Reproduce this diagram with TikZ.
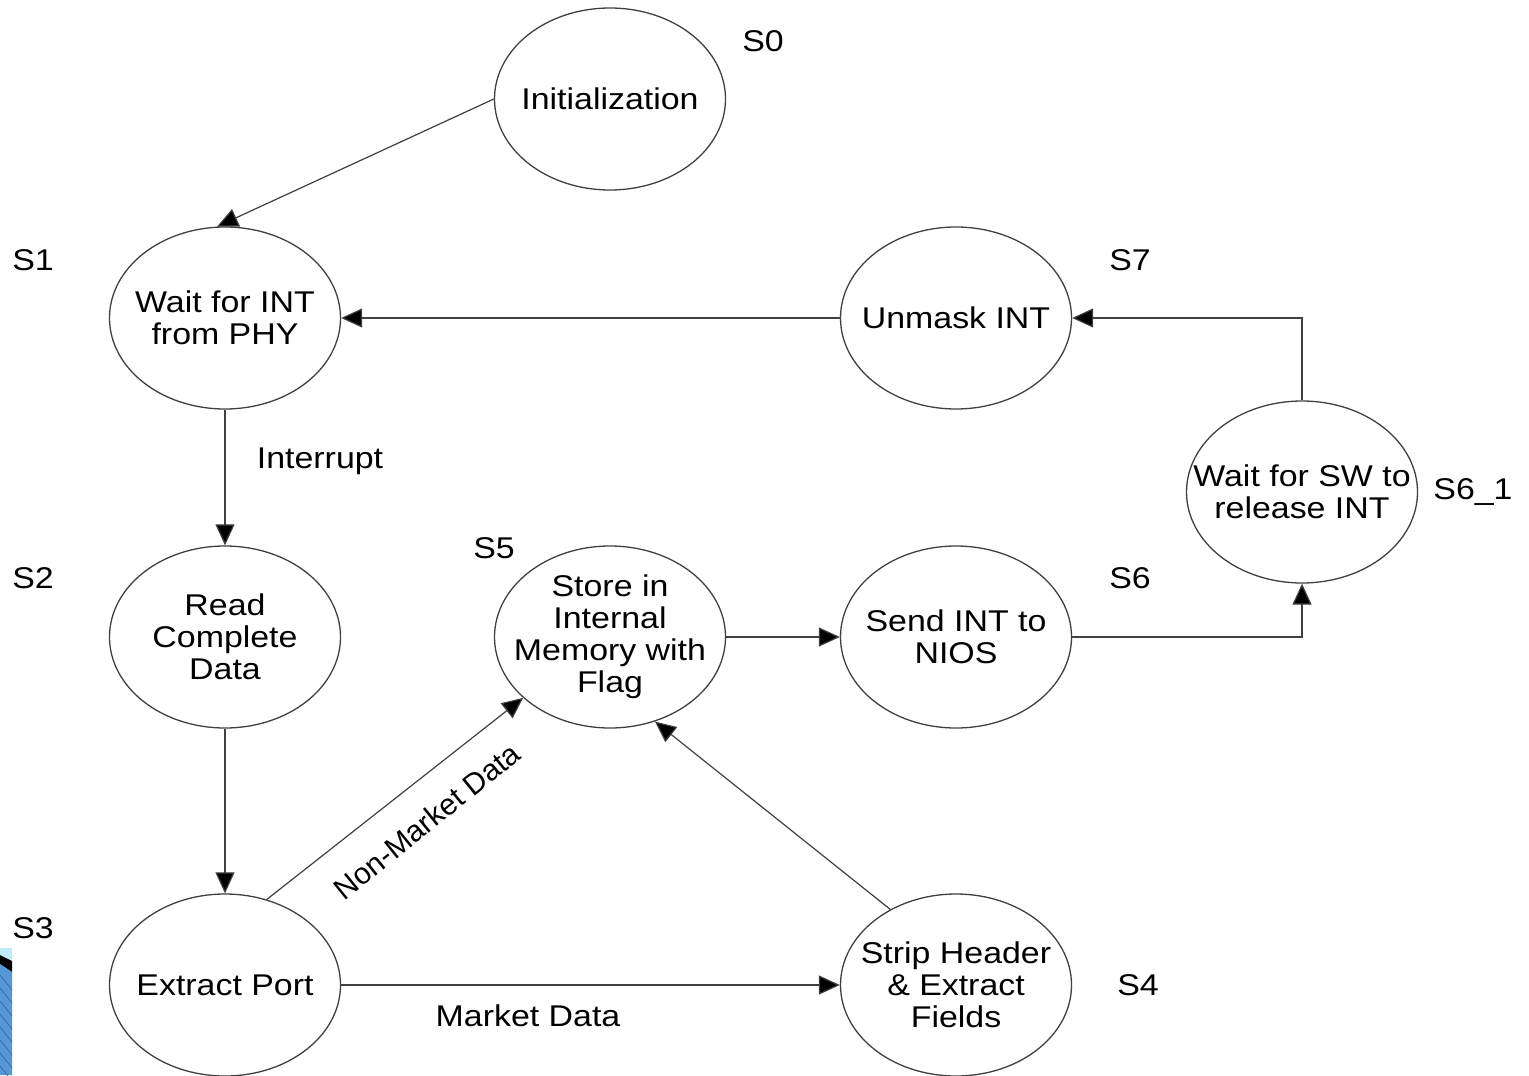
\documentclass[tikz,border=0pt]{standalone}
\usepackage{fontspec}
\setmainfont[FakeStretch=1.13]{Liberation Sans}
\newfontfamily\plainsans{Liberation Sans}
\usetikzlibrary{shapes.geometric,arrows.meta}

\tikzset{
  state/.style={ellipse, draw=black!75, line width=0.65pt,
    minimum width=115.5pt, minimum height=91pt, inner sep=0pt},
  stxt/.style={align=center, inner sep=0pt,
    font=\fontsize{15}{16}\selectfont},
  tag/.style={inner sep=0pt, font=\fontsize{15}{16}\selectfont},
  flow/.style={draw=black!75, line width=0.6pt,
    -{Triangle[length=10.5pt,width=9.5pt,fill=black]}},
}

\begin{document}
\begin{tikzpicture}[x=0.5pt, y=-0.5pt]
  \useasboundingbox (0,0) rectangle (1529,1075);
  \fill[white] (0,0) rectangle (1529,1075);

  % corner ribbon
  \fill[cyan!25!white] (0,948) rectangle (12,1075);
  \fill[black] (0,955) -- (12,961) -- (12,972) -- (0,964) -- cycle;
  \fill[cyan!60!blue!70!white] (0,964) -- (12,972) -- (12,1075) -- (0,1075) -- cycle;
  \foreach \k in {0,1,...,8}
    \draw[cyan!40!blue!80!black, line width=0.3pt]
      (0,975+\k*13) -- (12,990+\k*13);

  % states
  \node[state] (s0)  at (610,99)    {};
  \node[state] (s1)  at (225,318)   {};
  \node[state] (s7)  at (956,318)   {};
  \node[state] (s61) at (1302,492)  {};
  \node[state] (s2)  at (225,637)   {};
  \node[state] (s5)  at (610,637)   {};
  \node[state] (s6)  at (956,637)   {};
  \node[state] (s3)  at (225,985)   {};
  \node[state] (s4)  at (956,985)   {};

  \node[stxt] (t0)  at (s0)  {Initialization};
  \node[stxt] (t1)  at (s1)  {Wait for INT\\from PHY};
  \node[stxt] (t7)  at (s7)  {Unmask INT};
  \node[stxt] (t61) at (s61) {Wait for SW to\\release INT};
  \node[stxt] (t2)  at (s2)  {Read\\Complete\\Data};
  \node[stxt] (t5)  at (s5)  {Store in\\Internal\\Memory with\\Flag};
  \node[stxt] (t6)  at (s6)  {Send INT to\\NIOS};
  \node[stxt] (t3)  at (s3)  {Extract Port};
  \node[stxt] (t4)  at (s4)  {Strip Header\\\& Extract\\Fields};

  % state labels
  \node[tag] (l0)  at (763,41)   {S0};
  \node[tag] (l1)  at (33,260)   {S1};
  \node[tag] (l7)  at (1130,260) {S7};
  \node[tag] (l2)  at (33,578)   {S2};
  \node[tag] (l5)  at (494,548)  {S5};
  \node[tag] (l6)  at (1130,578) {S6};
  \node[tag] (l61) at (1473,492) {S6\_1};
  \node[tag] (l3)  at (33,928)   {S3};
  \node[tag] (l4)  at (1138,985) {S4};

  % transitions
  \draw[flow] (s0.west) -- (s1.95);
  \draw[flow] (s7.west) -- (s1.east);
  \draw[flow] (s61.north) |- (s7.east);
  \draw[flow] (s1.south) -- (s2.north);
  \draw[flow] (s2.south) -- (s3.north);
  \draw[flow] (s3.64) -- (s5.215);
  \draw[flow] (s3.east) -- (s4.west);
  \draw[flow] (s4.131) -- (s5.298);
  \draw[flow] (s5.east) -- (s6.west);
  \draw[flow] (s6.east) -| (s61.south);

  % transition labels
  \node[tag] (lint) at (320,461)  {Interrupt};
  \node[tag] (lmd)  at (528,1016) {Market Data};
  \node[inner sep=0pt, font=\plainsans\fontsize{15}{16}\selectfont,
        rotate=39] (lnmd) at (427,821) {Non-Market Data};
\end{tikzpicture}
\end{document}
